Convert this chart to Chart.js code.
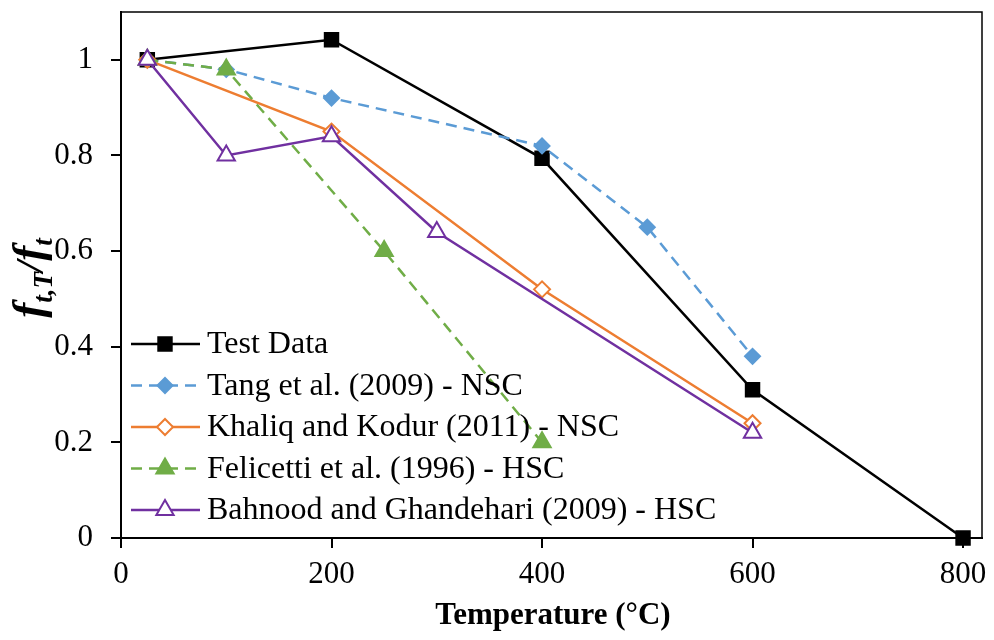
<!DOCTYPE html>
<html>
<head>
<meta charset="utf-8">
<script src="https://cdn.jsdelivr.net/npm/chart.js@4.4.1/dist/chart.umd.min.js"></script>
<style>
  html, body { margin: 0; padding: 0; background: #fff; }
  #wrap { width: 994px; height: 640px; }
</style>
</head>
<body>
<div id="wrap"><canvas id="chart"></canvas></div>
<script>
// data
const testX = [25, 200, 400, 600, 800];
const testY = [1.0, 1.042, 0.794, 0.31, 0.0];
const tangX = [25, 100, 200, 400, 500, 600];
const tangY = [1.0, 0.98, 0.92, 0.82, 0.65, 0.38];
const khaliqX = [25, 200, 400, 600];
const khaliqY = [1.0, 0.85, 0.52, 0.24];
const feliX = [25, 100, 250, 400];
const feliY = [1.0, 0.98, 0.60, 0.20];
const bahX = [25, 100, 200, 300, 600];
const bahY = [1.0, 0.80, 0.84, 0.64, 0.22];

const xTicks = [0, 200, 400, 600, 800];
const yTicks = [0, 0.2, 0.4, 0.6, 0.8, 1];

const pts = (xs, ys) => xs.map((x, i) => ({ x: x, y: ys[i] }));

const serif = '"Liberation Serif", "Times New Roman", serif';

const datasets = [
  {
    label: 'Test Data', data: pts(testX, testY),
    borderColor: '#000000', backgroundColor: '#000000',
    pointStyle: 'rect', pointRadius: 9.5, borderWidth: 2.5, order: 5
  },
  {
    label: 'Tang et al. (2009) - NSC', data: pts(tangX, tangY),
    borderColor: '#5B9BD5', backgroundColor: '#5B9BD5', borderDash: [11, 7],
    pointStyle: 'rectRot', pointRadius: 7.5, borderWidth: 2.5, order: 4
  },
  {
    label: 'Khaliq and Kodur (2011) - NSC', data: pts(khaliqX, khaliqY),
    borderColor: '#ED7D31', backgroundColor: '#ffffff',
    pointStyle: 'rectRot', pointRadius: 8, borderWidth: 2.5, order: 3
  },
  {
    label: 'Felicetti et al. (1996) - HSC', data: pts(feliX, feliY),
    borderColor: '#70AD47', backgroundColor: '#70AD47', borderDash: [11, 7],
    pointStyle: 'triangle', pointRadius: 10, borderWidth: 2.5, order: 2
  },
  {
    label: 'Bahnood and Ghandehari (2009) - HSC', data: pts(bahX, bahY),
    borderColor: '#7030A0', backgroundColor: '#ffffff',
    pointStyle: 'triangle', pointRadius: 10, borderWidth: 2.5, order: 1
  }
];
datasets.forEach(d => {
  d.fill = false;
  d.tension = 0;
  d.clip = false;
  d.pointBorderColor = d.borderColor;
  d.pointBackgroundColor = d.backgroundColor;
  d.pointBorderWidth = 2;
  d.pointHoverRadius = d.pointRadius;
});

// frame, axis titles and the legend inside the plot
const extras = {
  id: 'extras',
  beforeDatasetsDraw(chart) {
    const ctx = chart.ctx;
    const a = chart.chartArea;
    ctx.save();
    ctx.strokeStyle = '#000';
    ctx.lineWidth = 1.5;
    ctx.strokeRect(a.left, a.top, a.right - a.left, a.bottom - a.top);
    ctx.restore();
  },
  afterDraw(chart) {
    const ctx = chart.ctx;
    ctx.save();

    // x title
    ctx.fillStyle = '#000';
    ctx.font = 'bold 31px ' + serif;
    ctx.textAlign = 'center';
    ctx.textBaseline = 'alphabetic';
    ctx.fillText('Temperature (°C)', 553, 624);

    // y title: f_{t,T}/f_t
    ctx.translate(43, 278);
    ctx.rotate(-Math.PI / 2);
    const parts = [
      ['f', 'bold italic 45px ', 0],
      ['t,T', 'bold italic 27px ', 9],
      ['/', 'bold italic 40px ', 0],
      ['f', 'bold italic 45px ', 0],
      ['t', 'bold italic 27px ', 9]
    ];
    let w = 0;
    parts.forEach(p => { ctx.font = p[1] + serif; w += ctx.measureText(p[0]).width; });
    let x = -w / 2;
    ctx.textAlign = 'left';
    parts.forEach(p => {
      ctx.font = p[1] + serif;
      ctx.fillText(p[0], x, p[2]);
      x += ctx.measureText(p[0]).width;
    });
    ctx.restore();

    // legend
    ctx.save();
    chart.data.datasets.forEach((d, i) => {
      const y = 344 + i * 41.5;
      ctx.strokeStyle = d.borderColor;
      ctx.lineWidth = d.borderWidth;
      ctx.setLineDash(d.borderDash || []);
      ctx.beginPath();
      ctx.moveTo(131, y);
      ctx.lineTo(200, y);
      ctx.stroke();
      ctx.setLineDash([]);
      ctx.fillStyle = d.backgroundColor;
      ctx.strokeStyle = d.borderColor;
      ctx.lineWidth = 2;
      Chart.helpers.drawPoint(ctx, { pointStyle: d.pointStyle, radius: d.pointRadius, rotation: 0, borderWidth: 2 }, 165, y);
      ctx.fillStyle = '#000';
      ctx.font = '32px ' + serif;
      ctx.textAlign = 'left';
      ctx.textBaseline = 'middle';
      ctx.fillText(d.label, 207, y + 1);
    });
    ctx.restore();
  }
};

new Chart(document.getElementById('chart'), {
  type: 'line',
  data: { datasets: datasets },
  plugins: [extras],
  options: {
    responsive: true,
    maintainAspectRatio: false,
    animation: false,
    layout: { padding: { top: 10, right: 10, left: 0, bottom: 0 } },
    plugins: {
      legend: { display: false },
      tooltip: { enabled: false }
    },
    scales: {
      x: {
        type: 'linear',
        min: 0,
        max: 818,
        afterBuildTicks: s => { s.ticks = xTicks.map(v => ({ value: v })); },
        afterFit: s => { s.height = 102; s.paddingLeft = 0; s.paddingRight = 0; },
        grid: { display: true, drawOnChartArea: false, drawTicks: true, tickLength: 10, color: '#000', lineWidth: 2 },
        border: { display: true, color: '#000', width: 2 },
        ticks: {
          color: '#000', padding: 8,
          font: { family: serif, size: 31 },
          callback: v => String(v)
        }
      },
      y: {
        type: 'linear',
        min: 0,
        max: 1.1,
        afterBuildTicks: s => { s.ticks = yTicks.map(v => ({ value: v })); },
        afterFit: s => { s.width = 121; s.paddingTop = 0; s.paddingBottom = 0; },
        grid: { display: true, drawOnChartArea: false, drawTicks: true, tickLength: 10, color: '#000', lineWidth: 2 },
        border: { display: true, color: '#000', width: 2 },
        ticks: {
          color: '#000', padding: 18,
          font: { family: serif, size: 31 },
          callback: v => String(Math.round(v * 10) / 10)
        }
      }
    }
  }
});
</script>
</body>
</html>
